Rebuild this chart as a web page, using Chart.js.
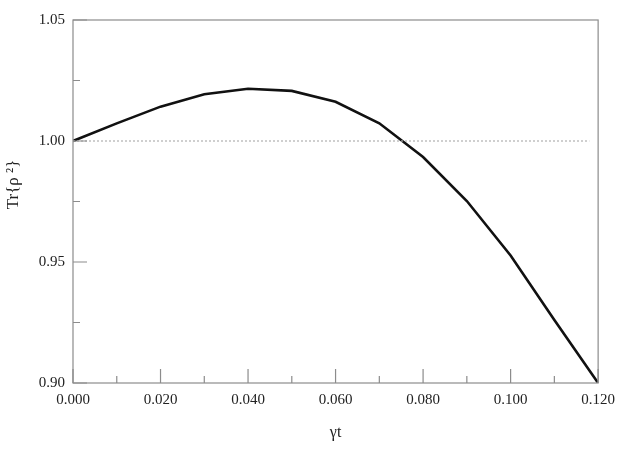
<!DOCTYPE html>
<html>
<head>
<meta charset="utf-8">
<script src="https://cdn.jsdelivr.net/npm/chart.js@4/dist/chart.umd.min.js"></script>
<style>
  html, body { margin: 0; padding: 0; background: #fff; }
</style>
</head>
<body>
<canvas id="purityChart" width="623" height="450"></canvas>
<script>
// gamma*t values and the purity Tr{rho^2}
var gammaT = [0, 0.01, 0.02, 0.03, 0.04, 0.05, 0.06, 0.07, 0.08, 0.09, 0.10, 0.11, 0.12];
var purity = [1.000, 1.0073, 1.0142, 1.0193, 1.0216, 1.0207, 1.0162, 1.0073, 0.9934, 0.9752, 0.9527, 0.9260, 0.900];

// dotted reference line at 1.00
var refX = [0, 0.118];
var refY = [1.00, 1.00];

var xMajor = [0, 0.02, 0.04, 0.06, 0.08, 0.10, 0.12];
var xMinor = [0.01, 0.03, 0.05, 0.07, 0.09, 0.11];
var yMajor = [0.90, 0.95, 1.00, 1.05];
var yMinor = [0.925, 0.975, 1.025];

var axisGray = '#8c8c8c';
var serif = "'Liberation Serif', 'DejaVu Serif', serif";

function toPoints(xs, ys) {
    return xs.map(function(x, i) {return {x: x, y: ys[i]}});
}

// frame + inward tick marks
var framePlugin = {
    id: 'frame',
    afterDraw: function(chart) {
        var c = chart.ctx, a = chart.chartArea;
        var xs = chart.scales.x, ys = chart.scales.y;
        c.save();
        c.strokeStyle = axisGray;
        c.lineWidth = 1.2;
        c.strokeRect(a.left, a.top, a.right - a.left, a.bottom - a.top);
        c.beginPath();
        xMajor.forEach(function(v) {
            var px = xs.getPixelForValue(v);
            c.moveTo(px, a.bottom); c.lineTo(px, a.bottom - 14);
        });
        xMinor.forEach(function(v) {
            var px = xs.getPixelForValue(v);
            c.moveTo(px, a.bottom); c.lineTo(px, a.bottom - 7);
        });
        yMajor.forEach(function(v) {
            var py = ys.getPixelForValue(v);
            c.moveTo(a.left, py); c.lineTo(a.left + 14, py);
        });
        yMinor.forEach(function(v) {
            var py = ys.getPixelForValue(v);
            c.moveTo(a.left, py); c.lineTo(a.left + 7, py);
        });
        c.stroke();
        c.restore();
    }
};

var ctx = document.getElementById('purityChart').getContext('2d');
var purityChart = new Chart(ctx, {
    type: 'line',
    data: {
        datasets: [{
            label: 'ref',
            data: toPoints(refX, refY),
            borderColor: '#b0b0b0',
            borderWidth: 1.2,
            borderDash: [2, 2],
            pointRadius: 0
        }, {
            label: 'Tr{rho^2}',
            data: toPoints(gammaT, purity),
            borderColor: '#111',
            borderWidth: 2.6,
            pointRadius: 0,
            tension: 0
        }]
    },
    options: {
        responsive: false,
        animation: false,
        layout: {padding: {top: 20, right: 24, bottom: 0, left: 0}},
        plugins: {legend: {display: false}, tooltip: {enabled: false}},
        scales: {
            x: {
                type: 'linear',
                min: 0,
                max: 0.12,
                afterBuildTicks: function(axis) {
                    axis.ticks = xMajor.map(function(v) {return {value: v}});
                },
                afterFit: function(axis) { axis.height = 67; },
                grid: {display: false, drawTicks: false},
                border: {display: false},
                ticks: {
                    padding: 8,
                    color: '#222',
                    font: {family: serif, size: 15},
                    maxRotation: 0,
                    callback: function(v) {return Number(v).toFixed(3)}
                },
                title: {
                    display: true,
                    text: 'γt',
                    color: '#222',
                    font: {family: serif, size: 16},
                    padding: {top: 10, bottom: 8}
                }
            },
            y: {
                type: 'linear',
                min: 0.90,
                max: 1.05,
                afterBuildTicks: function(axis) {
                    axis.ticks = yMajor.map(function(v) {return {value: v}});
                },
                afterFit: function(axis) { axis.width = 73; },
                grid: {display: false, drawTicks: false},
                border: {display: false},
                ticks: {
                    padding: 8,
                    color: '#222',
                    font: {family: serif, size: 15},
                    callback: function(v) {return Number(v).toFixed(2)}
                },
                title: {
                    display: true,
                    text: '        Tr{ρ ²}',
                    color: '#222',
                    font: {family: serif, size: 17},
                    padding: {top: 3, bottom: 4}
                }
            }
        }
    },
    plugins: [framePlugin]
});
</script>
</body>
</html>
